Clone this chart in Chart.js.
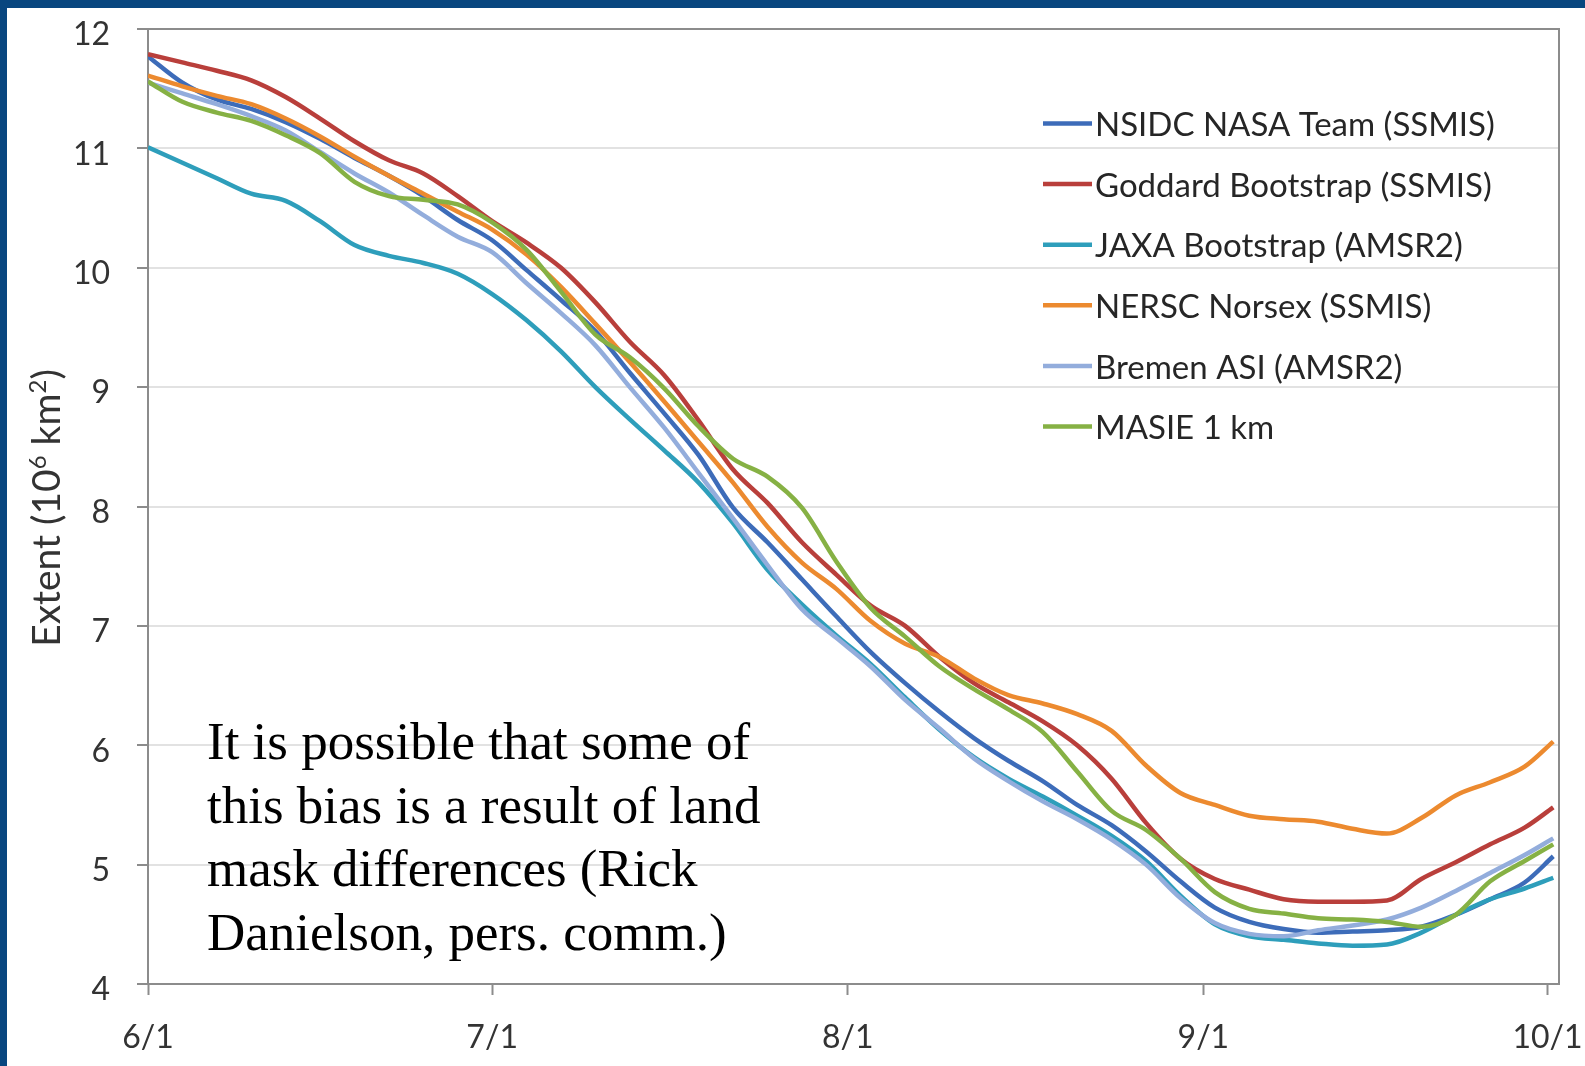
<!DOCTYPE html>
<html>
<head>
<meta charset="utf-8">
<script src="https://cdn.jsdelivr.net/npm/chart.js@4.4.1/dist/chart.umd.min.js"></script>
<style>
  html, body { margin: 0; padding: 0; background: #ffffff; }
  #wrap { width: 1585px; height: 1066px; position: relative; }
</style>
</head>
<body>
<div id="wrap"><canvas id="c"></canvas></div>
<script>
// ---- data (days since 6/1, extent in 10^6 km^2) ----
const days = [0,3,6,9,12,15,18,21,24,27,30,33,36,39,42,45,48,51,54,57,60,63,66,69,72,75,78,81,84,87,90,93,96,99,102,105,108,111,114,117,120,122.5];
const seriesNames = ["NSIDC NASA Team (SSMIS)", "Goddard Bootstrap (SSMIS)", "JAXA Bootstrap (AMSR2)", "NERSC Norsex (SSMIS)", "Bremen ASI (AMSR2)", "MASIE 1 km"];
const nsidc   = [11.77,11.55,11.41,11.33,11.22,11.08,10.92,10.77,10.60,10.40,10.23,9.98,9.73,9.47,9.12,8.78,8.43,7.99,7.70,7.39,7.08,6.78,6.52,6.28,6.06,5.87,5.70,5.50,5.33,5.11,4.86,4.64,4.52,4.46,4.43,4.44,4.45,4.48,4.58,4.71,4.85,5.07];
const goddard = [11.79,11.72,11.65,11.57,11.43,11.25,11.06,10.90,10.79,10.60,10.39,10.21,10.00,9.71,9.38,9.10,8.72,8.31,8.03,7.70,7.43,7.17,7.00,6.74,6.52,6.36,6.20,6.00,5.72,5.35,5.05,4.88,4.79,4.71,4.69,4.69,4.70,4.88,5.02,5.17,5.31,5.48];
const jaxa    = [11.01,10.88,10.75,10.62,10.56,10.39,10.19,10.10,10.04,9.95,9.78,9.56,9.30,9.00,8.73,8.47,8.20,7.86,7.47,7.18,6.92,6.68,6.40,6.13,5.90,5.72,5.57,5.41,5.24,5.03,4.74,4.50,4.40,4.37,4.34,4.32,4.33,4.43,4.58,4.71,4.80,4.89];
const nersc   = [11.61,11.52,11.44,11.37,11.25,11.10,10.93,10.77,10.62,10.47,10.32,10.11,9.84,9.53,9.21,8.88,8.54,8.20,7.83,7.53,7.31,7.04,6.85,6.74,6.56,6.42,6.35,6.26,6.12,5.83,5.60,5.50,5.41,5.38,5.36,5.30,5.26,5.39,5.58,5.69,5.82,6.03];
const bremen  = [11.55,11.46,11.37,11.27,11.15,10.97,10.79,10.63,10.44,10.26,10.13,9.87,9.62,9.35,9.00,8.66,8.28,7.90,7.51,7.14,6.90,6.66,6.38,6.14,5.89,5.70,5.53,5.38,5.21,5.00,4.72,4.51,4.42,4.40,4.45,4.49,4.54,4.64,4.78,4.93,5.08,5.22];
const masie   = [11.56,11.39,11.30,11.23,11.11,10.96,10.72,10.60,10.57,10.53,10.38,10.15,9.80,9.44,9.25,8.99,8.67,8.40,8.25,7.99,7.54,7.15,6.91,6.66,6.47,6.30,6.11,5.78,5.45,5.29,5.05,4.77,4.63,4.59,4.55,4.54,4.52,4.48,4.58,4.86,5.03,5.17];
const tickDays   = [0, 30, 61, 92, 122];
const tickLabels = ["6/1", "7/1", "8/1", "9/1", "10/1"];
const noteLines = ["It is possible that some of", "this bias is a result of land", "mask differences (Rick", "Danielson, pers. comm.)"];

// ---- styles ----
const colors = ["#3D6CB9", "#B93F3B", "#2E9EBB", "#EC8A2F", "#93ADDC", "#86B144"];
const allSeries = [nsidc, goddard, jaxa, nersc, bremen, masie];
const AXIS_GRAY = "#8c8c8c";
const TEXT = "#333333";

const datasets = allSeries.map((vals, i) => ({
  label: seriesNames[i],
  data: days.map((d, k) => ({ x: d, y: vals[k] })),
  borderColor: colors[i],
  backgroundColor: colors[i],
  borderWidth: 4.5,
  pointRadius: 0,
  fill: false,
  cubicInterpolationMode: 'monotone',
  order: allSeries.length - i
}));

const chrome = {
  id: 'chrome',
  beforeDraw(chart) {
    const ctx = chart.ctx;
    ctx.save();
    ctx.fillStyle = '#ffffff';
    ctx.fillRect(0, 0, chart.width, chart.height);
    ctx.fillStyle = '#08467F';
    ctx.fillRect(0, 0, chart.width, 8);
    ctx.fillRect(0, 0, 7, chart.height);
    ctx.restore();
  },
  beforeDatasetsDraw(chart) {
    const ctx = chart.ctx, a = chart.chartArea;
    ctx.save();
    ctx.strokeStyle = AXIS_GRAY;
    ctx.lineWidth = 2;
    ctx.strokeRect(a.left, a.top, a.right - a.left, a.bottom - a.top);
    ctx.restore();
  },
  afterDraw(chart) {
    const ctx = chart.ctx;
    ctx.save();
    // legend inside plot
    chart.data.datasets.forEach((ds, i) => {
      const y = 123.5 + i * 60.6;
      ctx.strokeStyle = ds.borderColor;
      ctx.lineWidth = 4.5;
      ctx.beginPath();
      ctx.moveTo(1043, y);
      ctx.lineTo(1092, y);
      ctx.stroke();
      ctx.fillStyle = '#262626';
      ctx.font = '33px Lato';
      ctx.textAlign = 'left';
      ctx.textBaseline = 'middle';
      ctx.fillText(ds.label, 1095, y + 2);
    });
    // annotation text
    ctx.fillStyle = '#000000';
    ctx.font = '53px "Liberation Serif"';
    ctx.textBaseline = 'alphabetic';
    noteLines.forEach((t, i) => ctx.fillText(t, 207, 759 + i * 63.7));
    // y axis title with superscripts
    const size = 39, sup = Math.round(size * 0.62);
    const parts = [["Extent (10", false], ["6", true], [" km", false], ["2", true], [")", false]];
    let total = 0;
    parts.forEach(p => { ctx.font = (p[1] ? sup : size) + 'px Lato'; total += ctx.measureText(p[0]).width; });
    ctx.translate(60, 508);
    ctx.rotate(-Math.PI / 2);
    ctx.fillStyle = TEXT;
    let x = -total / 2;
    parts.forEach(p => {
      ctx.font = (p[1] ? sup : size) + 'px Lato';
      ctx.fillText(p[0], x, p[1] ? -size * 0.36 : 0);
      x += ctx.measureText(p[0]).width;
    });
    ctx.restore();
  }
};

new Chart(document.getElementById('c'), {
  type: 'line',
  data: { datasets },
  options: {
    responsive: true,
    maintainAspectRatio: false,
    animation: false,
    layout: { padding: { top: 29, right: 26, left: 0, bottom: 0 } },
    plugins: { legend: { display: false }, tooltip: { enabled: false } },
    scales: {
      x: {
        type: 'linear',
        min: 0,
        max: 123,
        afterBuildTicks(scale) { scale.ticks = tickDays.map(v => ({ value: v })); },
        afterFit(scale) { scale.height = 82; scale.paddingLeft = 0; scale.paddingRight = 0; },
        ticks: {
          autoSkip: false,
          maxRotation: 0,
          padding: 23,
          color: TEXT,
          font: { family: 'Lato', size: 32 },
          callback(v) { const k = tickDays.indexOf(v); return k >= 0 ? tickLabels[k] : ''; }
        },
        grid: { drawOnChartArea: false, drawTicks: true, tickLength: 11, tickColor: AXIS_GRAY, tickWidth: 2 },
        border: { display: true, color: AXIS_GRAY, width: 2 }
      },
      y: {
        min: 4,
        max: 12,
        afterFit(scale) { scale.width = 148; scale.paddingTop = 0; scale.paddingBottom = 0; },
        ticks: {
          stepSize: 1,
          padding: 27,
          labelOffset: 6,
          color: TEXT,
          font: { family: 'Lato', size: 32 }
        },
        grid: { color: '#e2e2e2', lineWidth: 2, drawTicks: true, tickLength: 11, tickColor: AXIS_GRAY, tickWidth: 2 },
        border: { display: true, color: AXIS_GRAY, width: 2 }
      }
    }
  },
  plugins: [chrome]
});
</script>
</body>
</html>
